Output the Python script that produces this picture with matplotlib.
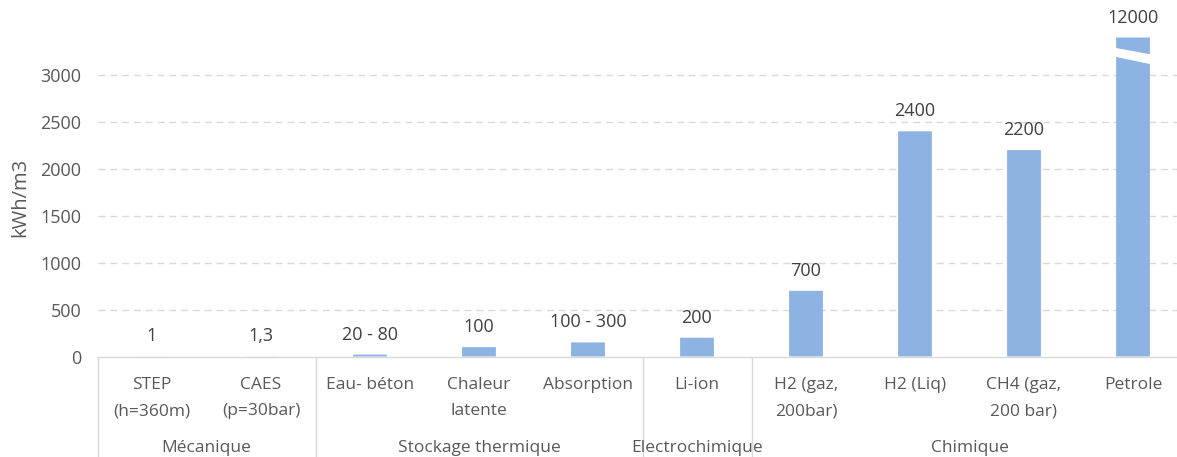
import matplotlib
matplotlib.use('Agg')
import matplotlib.pyplot as plt
from matplotlib.patches import Polygon

plt.rcParams['font.family'] = ['Open Sans', 'DejaVu Sans']

# Data
categories = ['STEP\n(h=360m)', 'CAES\n(p=30bar)', 'Eau- béton', 'Chaleur\nlatente',
              'Absorption', 'Li-ion', 'H2 (gaz,\n200bar)', 'H2 (Liq)',
              'CH4 (gaz,\n200 bar)', 'Petrole']
groups = ['Mécanique', 'Stockage thermique', 'Electrochimique', 'Chimique']
group_sizes = [2, 3, 1, 4]
values = [1, 1.3, 20, 100, 150, 200, 700, 2400, 2200, 12000]
value_labels = ['1', '1,3', '20 - 80', '100', '100 - 300', '200', '700',
                '2400', '2200', '12000']
y_ticks = [0, 500, 1000, 1500, 2000, 2500, 3000]

# Layout / style
W, H = 1177, 457
DPI = 100
PT = 72 / DPI                 # points per pixel
BAR_COLOR = '#8db3e2'
GRID_COLOR = '#d9d9d9'
TICK_COLOR = '#595959'
LABEL_COLOR = '#404040'
FS_NUM = 13
FS_CAT = 12.5
FS_YLAB = 14.5
AXIS_TOP = 3800
BREAK_CAP = 3400              # bars above this are drawn truncated with a break
BAR_W = 0.31

fig = plt.figure(figsize=(W / DPI, H / DPI), dpi=DPI)
base_px = 356.5
ax = fig.add_axes([97.5 / W, (H - base_px) / H, 1090 / W, base_px / H])

xs = list(range(len(values)))
shown = [min(v, BREAK_CAP) for v in values]
bars = ax.bar(xs, shown, width=BAR_W, color=BAR_COLOR, linewidth=0, zorder=3)
for b in bars:
    b.set_snap(False)

# axis break on truncated bars
for i, v in enumerate(values):
    if v > BREAK_CAP:
        xl, xr = i - BAR_W / 2 - 0.01, i + BAR_W / 2 + 0.01
        poly = Polygon([(xl, 3195), (xl, 3290), (xr, 3220), (xr, 3115)],
                       closed=True, facecolor='white', edgecolor='none', zorder=4)
        ax.add_patch(poly)

# value labels
for i, (h, lab) in enumerate(zip(shown, value_labels)):
    ax.annotate(lab, xy=(i, h), xytext=(0, 20 * PT), textcoords='offset points',
                ha='center', va='center', fontsize=FS_NUM, color=LABEL_COLOR, zorder=5)

ax.set_xlim(-0.5, len(values) - 0.5)
ax.set_ylim(0, AXIS_TOP)
ax.set_yticks(y_ticks)
ax.set_yticklabels([str(t) for t in y_ticks])
ax.tick_params(axis='y', length=0, pad=16 * PT, labelsize=FS_NUM, labelcolor=TICK_COLOR)
ax.set_xticks([])

for s in ['top', 'right', 'left']:
    ax.spines[s].set_visible(False)
ax.spines['bottom'].set_color(GRID_COLOR)
ax.spines['bottom'].set_linewidth(1.0)
ax.spines['bottom'].set_zorder(4)

for t in y_ticks[1:]:
    ax.axhline(t, color=GRID_COLOR, lw=1.0, ls=(0, (5, 3.5)), zorder=1)

# category labels, one line at a time
line_base_px = [389, 415]
for i, lab in enumerate(categories):
    for j, line in enumerate(lab.split('\n')):
        ax.annotate(line, xy=(i, 0), xycoords=('data', 'axes fraction'),
                    xytext=(0, -(line_base_px[j] - base_px) * PT),
                    textcoords='offset points', ha='center', va='baseline',
                    fontsize=FS_CAT, color=TICK_COLOR, annotation_clip=False)

# group labels and separators
start = 0
bounds = [-0.5]
for g, n in zip(groups, group_sizes):
    center = start + (n - 1) / 2
    ax.annotate(g, xy=(center, 0), xycoords=('data', 'axes fraction'),
                xytext=(0, -(452 - base_px) * PT), textcoords='offset points',
                ha='center', va='baseline', fontsize=FS_CAT, color=TICK_COLOR,
                annotation_clip=False)
    start += n
    bounds.append(start - 0.5)

trans = ax.get_xaxis_transform()
for b in bounds:
    ax.plot([b, b], [0, -0.3], color=GRID_COLOR, lw=1.0, transform=trans,
            clip_on=False, zorder=2)

fig.text(20 / W, 1 - 197 / H, 'kWh/m3', rotation=90, ha='center', va='center',
         fontsize=FS_YLAB, color=TICK_COLOR)

fig.savefig('out.png', dpi=DPI)
